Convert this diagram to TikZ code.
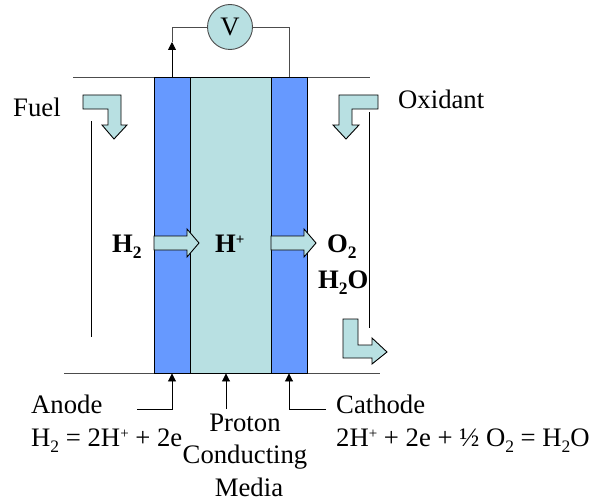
\documentclass[tikz,border=0pt]{standalone}
\usepackage{fontspec}
\setmainfont{Liberation Serif}
\usetikzlibrary{arrows.meta}
\definecolor{media}{RGB}{184,224,226}
\definecolor{electrode}{RGB}{102,153,255}
\newcommand{\subs}[1]{\raisebox{-6.5pt}{\fontsize{17.5}{17.5}\selectfont #1}}
\newcommand{\sups}[1]{\raisebox{7.5pt}{\fontsize{15}{15}\selectfont #1}}
\begin{document}
\begin{tikzpicture}[x=1pt,y=-1pt,
	layer/.style={draw, line width=0.9pt, inner sep=0pt, minimum height=296pt},
	flow/.style={draw, line width=0.9pt, fill=media, line join=miter},
	wire/.style={draw=black!70, line width=0.9pt},
	lead/.style={line width=0.9pt},
	tip/.style={-{Triangle[length=8pt,width=8pt]}, line width=0.9pt},
	txt/.style={anchor=base west, inner sep=0pt, font=\fontsize{26.7}{32}\selectfont},
	ctr/.style={anchor=base, inner sep=0pt, font=\fontsize{26.7}{32}\selectfont},
	bold/.style={anchor=base west, inner sep=0pt, font=\fontsize{26.7}{32}\selectfont\bfseries}]
	\useasboundingbox (0,0) rectangle (592,503);
	\def\ytop{77}
	\def\ybot{373}
	\coordinate (topl) at (73,\ytop);
	\coordinate (topr) at (370,\ytop);
	\coordinate (botl) at (64,\ybot);
	\coordinate (botr) at (380,\ybot);
	\draw [wire] (topl) -- (topr);
	\draw [wire] (botl) -- (botr);
	\node [layer, fill=electrode, minimum width=36pt] (anode) at (172,225) {};
	\node [layer, fill=media, minimum width=81pt] (membrane) at (230.5,225) {};
	\node [layer, fill=electrode, minimum width=36pt] (cathode) at (289,225) {};
	\node [circle, draw=black!70, line width=0.9pt, fill=media, minimum size=45pt, inner sep=0pt, font=\fontsize{26.7}{32}\selectfont] (volt) at (230,27) {V};
	\coordinate (wiretip) at (172,42);
	\draw [wire] (wiretip) |- (volt.west);
	\draw [wire] (cathode.north) |- (volt.east);
	\draw [tip] (anode.north) -- (wiretip);
	\foreach \x in {154,271}
	\draw [flow] (\x,236) -- (\x+33,236) -- (\x+33,229) -- (\x+45,243) -- (\x+33,257) -- (\x+33,250) -- (\x,250) -- cycle;
	\draw [flow] (83,95) -- (121,95) -- (121,125) -- (127,125) -- (114,139) -- (102,125) -- (108,125) -- (108,109) -- (83,109) -- cycle;
	\draw [flow] (378,95) -- (339,95) -- (339,125) -- (333,125) -- (346,139) -- (359,125) -- (352,125) -- (352,109) -- (378,109) -- cycle;
	\draw [flow] (343,319) -- (358,319) -- (358,345) -- (372,345) -- (372,338) -- (387,352) -- (372,364) -- (372,358) -- (343,358) -- cycle;
	\coordinate (fuelt) at (91,121);
	\coordinate (fuelb) at (91,337);
	\coordinate (oxt) at (369,112);
	\coordinate (oxb) at (369,328);
	\draw [lead] (fuelt) -- (fuelb);
	\draw [lead] (oxt) -- (oxb);
	\node [txt] (fuel) at (13,117) {Fuel};
	\node [txt] (oxidant) at (398,108) {Oxidant};
	\node [bold] (htwo) at (112,252) {H\subs{2}};
	\node [bold] (hplus) at (215,252) {H\sups{+}};
	\node [bold] (otwo) at (327,252) {O\subs{2}};
	\node [bold] (water) at (318,288) {H\subs{2}O};
	\node [txt] (anodetxt) at (31,413) {Anode};
	\node [txt] (anodeeq) at (31,446) {H\subs{2} = 2H\sups{+} + 2e};
	\node [txt] (cathodetxt) at (336,413) {Cathode};
	\node [txt] (cathodeeq) at (336,446) {2H\sups{+} + 2e + ½ O\subs{2} = H\subs{2}O};
	\node [ctr] (proton) at (245,431) {Proton};
	\node [ctr] (conducting) at (245,463) {Conducting};
	\node [ctr] (mediatxt) at (249,496) {Media};
	\coordinate (anodelead) at (137,409);
	\coordinate (medialead) at (226,409);
	\coordinate (cathodelead) at (326,409);
	\draw [tip] (anodelead) -| (anode.south);
	\draw [tip] (medialead) -- (medialead |- membrane.south);
	\draw [tip] (cathodelead) -| (cathode.south);
\end{tikzpicture}
\end{document}
